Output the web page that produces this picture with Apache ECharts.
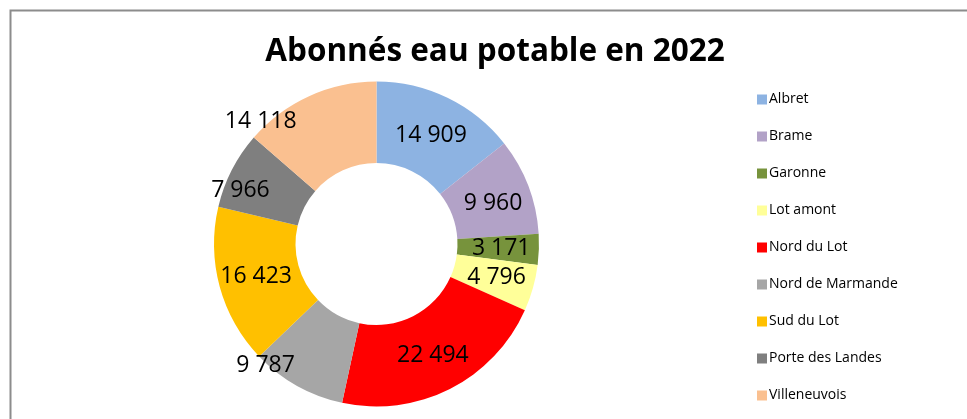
<!DOCTYPE html>
<html>
<head>
<meta charset="utf-8">
<script src="https://cdn.jsdelivr.net/npm/echarts@6/dist/echarts.min.js"></script>
<style>
html,body{margin:0;padding:0;background:#fff;}
#chart{width:967px;height:419px;}
</style>
</head>
<body>
<div id="chart"></div>
<script>
const categories = ['Albret','Brame','Garonne','Lot amont','Nord du Lot','Nord de Marmande','Sud du Lot','Porte des Landes','Villeneuvois'];
const values = [14909, 9960, 3171, 4796, 22494, 9787, 16423, 7966, 14118];
const colors = ['#8DB3E2','#B2A2C7','#77933C','#FFFF99','#FF0000','#A6A6A6','#FFC000','#7F7F7F','#FAC090'];
const titleText = 'Abonnés eau potable en 2022';

// manual label nudges (px) for labels moved in the original
const labelNudge = {0:[0,4], 1:[0,4], 5:[-50,13], 7:[-25,3], 8:[-64,-9]};

function fmt(v){ return String(v).replace(/\B(?=(\d{3})+(?!\d))/g,' '); }

const chart = echarts.init(document.getElementById('chart'), null, {renderer:'canvas'});
chart.setOption({
  animation:false,
  backgroundColor:'#fff',
  graphic:[{
    type:'polyline', silent:true,
    shape:{points:[[10.5,419],[10.5,10.5],[967,10.5]]},
    style:{stroke:'#8c8c8c', lineWidth:2, fill:null}
  }],
  title:{
    text:titleText, left:490, textAlign:'center', top:31,
    textStyle:{fontFamily:'Open Sans', fontWeight:'bold', fontSize:31.5, color:'#000'}
  },
  legend:{
    orient:'vertical', left:757, top:90, padding:0, itemGap:18, itemWidth:10, itemHeight:10,
    icon:'rect',
    textStyle:{fontFamily:'Open Sans', fontSize:14, lineHeight:19, color:'#000', padding:[0,0,0,-3]},
    data:categories
  },
  series:[{
    type:'pie', center:[376.5,244], radius:[81,162.5],
    startAngle:90, clockwise:true,
    label:{show:true, position:'inside', fontFamily:'Open Sans', fontSize:23, color:'#000',
      formatter:p=>fmt(p.value)},
    labelLine:{show:false},
    labelLayout:function(p){ const n=labelNudge[p.dataIndex]; return n?{dx:n[0],dy:n[1]}:{}; },
    itemStyle:{borderWidth:0},
    emphasis:{disabled:true},
    data:categories.map((c,i)=>({name:c, value:values[i], itemStyle:{color:colors[i]}}))
  }]
});
</script>
</body>
</html>
